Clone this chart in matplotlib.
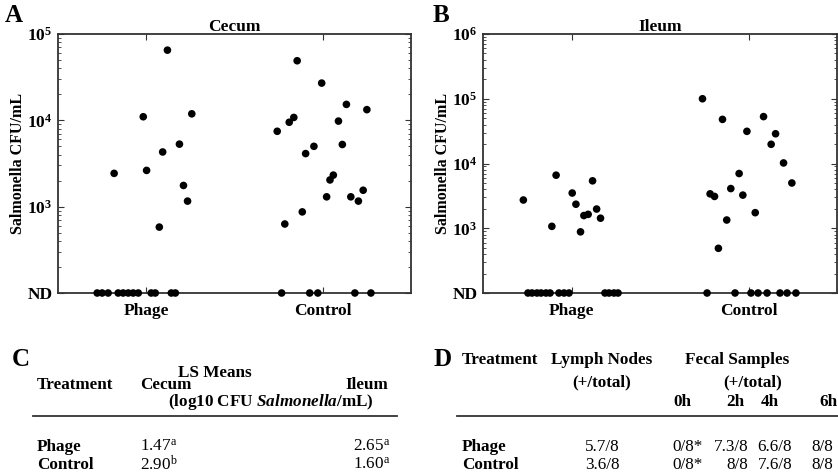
import numpy as np
import matplotlib
matplotlib.use("Agg")
import matplotlib.pyplot as plt
from matplotlib.ticker import LogLocator, FixedLocator, NullFormatter

plt.rcParams['font.family'] = ['Liberation Serif', 'DejaVu Serif']
plt.rcParams['mathtext.fontset'] = 'custom'
plt.rcParams['mathtext.rm'] = 'Liberation Serif'
plt.rcParams['mathtext.bf'] = 'Liberation Serif:bold'
plt.rcParams['mathtext.it'] = 'Liberation Serif:bold:italic'

ND = 100.0  # "not detected" plotted at the bottom of the axis

groups = ["Phage", "Control"]

# ---- Panel A: Cecum ----
cecum_phage_x = [0.818, 0.983, 1.002, 1.074, 1.093, 1.120, 1.188, 1.211, 1.234, 1.258]
cecum_phage_y = [2430, 11000, 2630, 580, 4300, 65000, 5300, 1760, 1160, 11900]
cecum_phage_nd_x = [0.722, 0.750, 0.784, 0.841, 0.869, 0.898, 0.926, 0.955, 1.028, 1.051, 1.142, 1.165]
cecum_ctrl_x = [1.742, 1.785, 1.810, 1.836, 1.855, 1.884, 1.903, 1.950, 1.994, 2.022,
                2.041, 2.060, 2.089, 2.111, 2.134, 2.159, 2.202, 2.229, 2.250]
cecum_ctrl_y = [7470, 630, 9500, 10800, 49000, 870, 4120, 5000, 27000, 1300,
                2040, 2320, 9800, 5250, 15300, 1300, 1160, 1550, 13300]
cecum_ctrl_nd_x = [1.767, 1.926, 1.972, 2.182, 2.273]

# ---- Panel B: Ileum ----
ileum_phage_x = [0.728, 0.889, 0.913, 1.004, 1.025, 1.051, 1.070, 1.094, 1.119, 1.142, 1.164]
ileum_phage_y = [2730, 1070, 6600, 3500, 2350, 880, 1570, 1640, 5400, 1980, 1430]
ileum_phage_nd_x = [0.754, 0.777, 0.805, 0.828, 0.856, 0.879, 0.929, 0.958, 0.986,
                    1.189, 1.212, 1.240, 1.263]
ileum_ctrl_x = [1.740, 1.783, 1.808, 1.830, 1.853, 1.877, 1.900, 1.947, 1.968, 1.991,
                2.038, 2.085, 2.128, 2.153, 2.198, 2.245]
ileum_ctrl_y = [100000, 3400, 3100, 490, 48000, 1340, 4100, 7000, 3250, 31400,
                1740, 53000, 19800, 28800, 10200, 5000]
ileum_ctrl_nd_x = [1.766, 1.924, 2.014, 2.054, 2.105, 2.178, 2.218, 2.268]

# ---- Panel C table ----
c_treatments = ["Phage", "Control"]
c_cecum = ["1.47", "2.90"]
c_cecum_sup = ["a", "b"]
c_ileum = ["2.65", "1.60"]
c_ileum_sup = ["a", "a"]

# ---- Panel D table ----
d_treatments = ["Phage", "Control"]
d_lymph = ["5.7/8", "3.6/8"]
d_hours = ["0h", "2h", "4h", "6h"]
d_fecal = [["0/8*", "7.3/8", "6.6/8", "8/8"],
           ["0/8*", "8/8", "7.6/8", "8/8"]]

W, H = 838, 474
fig = plt.figure(figsize=(W / 100, H / 100), dpi=100)


def fx(x):
    return x / W


def fy(y):
    return 1 - y / H


def make_panel(left_px, right_px, top_px, bot_px, ymax, title, letter, letter_x,
               px_, py_, pnd, cx_, cy_, cnd):
    ax = fig.add_axes([fx(left_px), fy(bot_px), (right_px - left_px) / W, (bot_px - top_px) / H])
    ax.set_yscale('log')
    ax.set_xlim(0.5, 2.5)
    ax.set_ylim(ND, ymax)
    kw = dict(s=30, color='black', edgecolors='none', zorder=5, clip_on=False)
    ax.scatter(px_, py_, **kw)
    ax.scatter(pnd, [ND] * len(pnd), **kw)
    ax.scatter(cx_, cy_, **kw)
    ax.scatter(cnd, [ND] * len(cnd), **kw)
    exps = range(2, int(round(np.log10(ymax))) + 1)
    ticks = [10.0 ** e for e in exps]
    labels = ['ND'] + [r'$\mathbf{10^{%d}}$' % e for e in list(exps)[1:]]
    ax.yaxis.set_major_locator(FixedLocator(ticks))
    ax.set_yticklabels(labels)
    ax.yaxis.set_minor_locator(LogLocator(base=10, subs=np.arange(2, 10)))
    ax.yaxis.set_minor_formatter(NullFormatter())
    ax.set_xticks([1, 2])
    ax.set_xticklabels(groups)
    ax.tick_params(axis='both', which='major', direction='in', top=True, right=True,
                   length=4, width=0.8, labelsize=12.5, color='#333333')
    ax.tick_params(axis='y', which='major', pad=4)
    ax.tick_params(axis='x', which='major', pad=7)
    ax.tick_params(axis='y', which='minor', direction='in', left=True, right=True,
                   length=2.5, width=0.6, color='#333333')
    for lab in ax.get_xticklabels() + ax.get_yticklabels():
        lab.set_fontweight('bold')
    for sp in ax.spines.values():
        sp.set_color('#333333')
        sp.set_linewidth(1.3)
    ax.set_title(title, fontsize=12.5, fontweight='bold', pad=2)
    ax.set_ylabel('Salmonella CFU/mL', fontsize=11.5, fontweight='bold', labelpad=1)
    fig.text(fx(letter_x), fy(15), letter, fontsize=18, fontweight='bold', ha='left', va='center')
    return ax


make_panel(58, 411, 34, 293, 1e5, 'Cecum', 'A', 5,
           cecum_phage_x, cecum_phage_y, cecum_phage_nd_x,
           cecum_ctrl_x, cecum_ctrl_y, cecum_ctrl_nd_x)
make_panel(483, 837, 34, 293, 1e6, 'Ileum', 'B', 433,
           ileum_phage_x, ileum_phage_y, ileum_phage_nd_x,
           ileum_ctrl_x, ileum_ctrl_y, ileum_ctrl_nd_x)

fs = 12.3
bold = dict(fontsize=fs, fontweight='bold', va='center')
norm = dict(fontsize=fs, va='center')

# ---- Panel C ----
fig.text(fx(12), fy(360), 'C', fontsize=18, fontweight='bold', va='center')
fig.text(fx(215), fy(373), 'LS Means', ha='center', **bold)
fig.text(fx(37), fy(385), 'Treatment', ha='left', **bold)
fig.text(fx(140), fy(385), 'Cecum', ha='left', **bold)
fig.text(fx(388), fy(385), 'Ileum', ha='right', **bold)
fig.text(fx(168), fy(402), r'(log10 CFU $\mathit{Salmonella}$/mL)', ha='left', **bold)
fig.add_artist(plt.Line2D([fx(33), fx(397)], [fy(416), fy(416)], color='#333333', lw=1.3))
row_y = [447, 465]
for i in range(2):
    fig.text(fx(37), fy(row_y[i]), c_treatments[i], ha='left', **bold)
    fig.text(fx(140), fy(row_y[i]), r'%s$^{\mathrm{%s}}$' % (c_cecum[i], c_cecum_sup[i]), ha='left', **norm)
    fig.text(fx(390), fy(row_y[i]), r'%s$^{\mathrm{%s}}$' % (c_ileum[i], c_ileum_sup[i]), ha='right', **norm)

# ---- Panel D ----
fig.text(fx(433), fy(360), 'D', fontsize=18, fontweight='bold', va='center')
fig.text(fx(462), fy(360), 'Treatment', ha='left', **bold)
fig.text(fx(602), fy(360), 'Lymph Nodes', ha='center', **bold)
fig.text(fx(602), fy(382), '(+/total)', ha='center', **bold)
fig.text(fx(737), fy(360), 'Fecal Samples', ha='center', **bold)
fig.text(fx(753), fy(382), '(+/total)', ha='center', **bold)
hour_lbl_x = [682, 735, 770, 828]
for h, xh in zip(d_hours, hour_lbl_x):
    fig.text(fx(xh), fy(402), h, ha='center', **bold)
fig.add_artist(plt.Line2D([fx(457), fx(838)], [fy(416), fy(416)], color='#333333', lw=1.3))
val_x = [(672, 'left'), (748, 'right'), (792, 'right'), (833, 'right')]
for i in range(2):
    fig.text(fx(462), fy(row_y[i]), d_treatments[i], ha='left', **bold)
    fig.text(fx(602), fy(row_y[i]), d_lymph[i], ha='center', **norm)
    for j, (xv, ha) in enumerate(val_x):
        fig.text(fx(xv), fy(row_y[i]), d_fecal[i][j], ha=ha, **norm)

fig.savefig('out.png', dpi=100)
